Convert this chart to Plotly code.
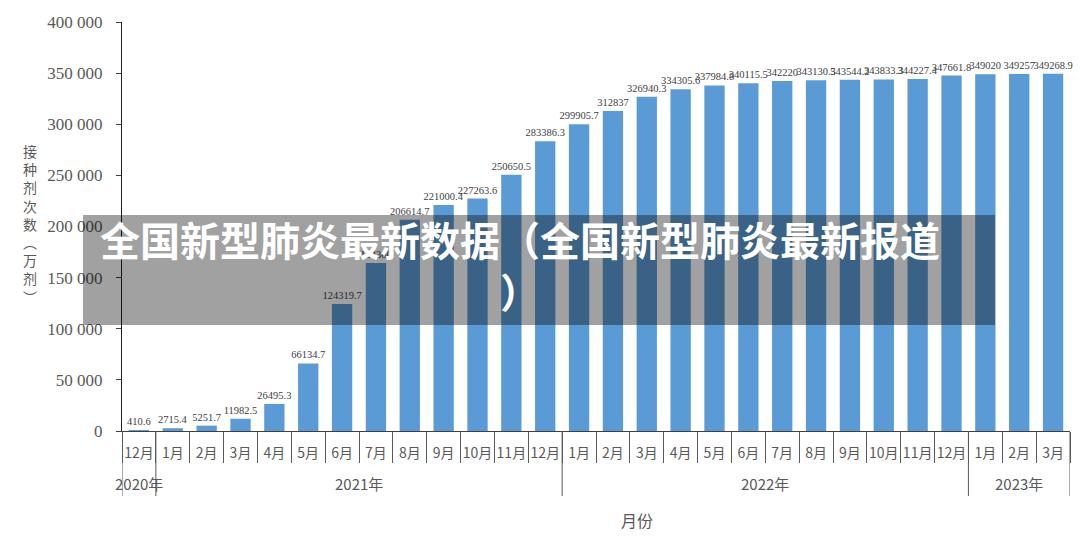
import plotly.graph_objects as go

years = ["2020年",
         "2021年", "2021年", "2021年", "2021年", "2021年", "2021年",
         "2021年", "2021年", "2021年", "2021年", "2021年", "2021年",
         "2022年", "2022年", "2022年", "2022年", "2022年", "2022年",
         "2022年", "2022年", "2022年", "2022年", "2022年", "2022年",
         "2023年", "2023年", "2023年"]
months = ["12月",
          "1月", "2月", "3月", "4月", "5月", "6月",
          "7月", "8月", "9月", "10月", "11月", "12月",
          "1月", "2月", "3月", "4月", "5月", "6月",
          "7月", "8月", "9月", "10月", "11月", "12月",
          "1月", "2月", "3月"]
doses = [410.6,
         2715.4, 5251.7, 11982.5, 26495.3, 66134.7, 124319.7,
         164300, 206614.7, 221000.4, 227263.6, 250650.5, 283386.3,
         299905.7, 312837, 326940.3, 334305.6, 337984.8, 340115.5,
         342220, 343130.5, 343544.2, 343833.3, 344227.4, 347661.8,
         349020, 349257, 349268.9]
y_ticks = [0, 50000, 100000, 150000, 200000, 250000, 300000, 350000, 400000]

y_title = "接种剂次数︵万剂︶"
x_title = "月份"
banner = "全国新型肺炎最新数据（全国新型肺炎最新报道<br>）"

keys = [y + m for y, m in zip(years, months)]

fig = go.Figure(go.Bar(
    x=keys, y=doses,
    marker=dict(color="#5b9bd5", line=dict(width=0)),
    width=0.6,
    text=[str(v) for v in doses],
    textposition="outside",
    constraintext="none",
    textfont=dict(family="Liberation Serif", size=10.5, color="#404040"),
    cliponaxis=False,
))

# year groups: boundaries and centres derived from the category list
groups = []
for i, y in enumerate(years):
    if not groups or groups[-1][0] != y:
        groups.append([y, i, i])
    else:
        groups[-1][2] = i

shapes = [dict(type="rect", xref="paper", yref="paper",
               x0=-0.0411, x1=0.9209, y0=0.2592, y1=0.5281,
               fillcolor="rgba(0,0,0,0.37)", line=dict(width=0), layer="above")]
annotations = [
    dict(text="<br>".join(list(y_title)), xref="paper", yref="paper",
         x=-0.097, y=0.506, xanchor="center", yanchor="middle", showarrow=False,
         font=dict(family="Noto Sans CJK SC", size=14, color="#595959")),
    dict(text=x_title, xref="paper", yref="paper",
         x=0.543, y=-0.2176, xanchor="center", yanchor="middle", showarrow=False,
         font=dict(family="Noto Sans CJK SC", size=16, color="#595959")),
    dict(text=banner, xref="paper", yref="paper",
         x=0.42, y=0.405, xanchor="center", yanchor="middle", showarrow=False,
         font=dict(family="Noto Sans CJK SC", size=40, color="white", weight="bold")),
]
bounds = sorted({g[1] - 0.5 for g in groups} | {groups[-1][2] + 0.5})
for b in bounds:
    shapes.append(dict(type="line", xref="x", yref="paper", x0=b, x1=b,
                       y0=0, y1=-0.159, line=dict(color="#595959", width=1),
                       layer="above"))
for name, i0, i1 in groups:
    annotations.append(dict(text=name, xref="x", yref="paper",
                            x=(i0 + i1) / 2, y=-0.128, xanchor="center", yanchor="middle",
                            showarrow=False,
                            font=dict(family="Noto Sans CJK SC", size=15, color="#595959")))

fig.update_layout(
    width=1080, height=540,
    margin=dict(l=122, r=10, t=22, b=109),
    paper_bgcolor="white", plot_bgcolor="white",
    separators=". ",
    showlegend=False,
    xaxis=dict(
        type="category", tickmode="array", tickvals=keys, ticktext=months,
        tickson="boundaries",
        tickangle=0, ticks="outside", ticklen=31, tickcolor="#595959",
        ticklabelstandoff=9,
        showline=True, linecolor="#404040", linewidth=1,
        tickfont=dict(family="Noto Sans CJK SC", size=14, color="#595959"),
        showgrid=False, range=[-0.5, len(keys) - 0.5],
    ),
    yaxis=dict(
        range=[0, 400000], tickmode="array", tickvals=y_ticks, tickformat=",",
        ticks="outside", ticklen=5, tickcolor="#404040",
        showline=True, linecolor="#202020", linewidth=1,
        tickfont=dict(family="Liberation Serif", size=17, color="#595959"),
        ticklabelstandoff=10,
        showgrid=False, zeroline=False,
    ),
    shapes=shapes,
    annotations=annotations,
)

fig.write_html("out.html")
